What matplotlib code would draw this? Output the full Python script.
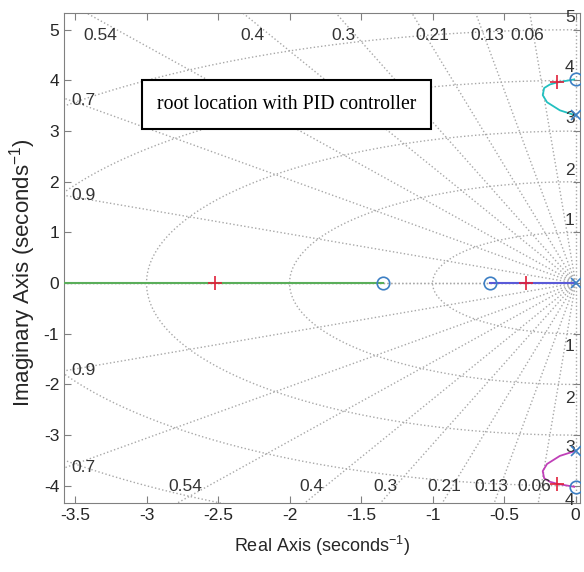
import numpy as np
import matplotlib
matplotlib.use("Agg")
from matplotlib import pyplot as plt
from matplotlib.patches import Rectangle

plt.rcParams['font.family'] = ['Liberation Sans', 'DejaVu Sans']
plt.rcParams['mathtext.default'] = 'regular'

# sgrid values
zeta_vals = [0.06, 0.13, 0.21, 0.3, 0.4, 0.54, 0.7, 0.9]
wn_vals = [1, 2, 3, 4, 5]

# root locus branches
upper_x = [0.0, -0.11, -0.20, -0.23, -0.22, -0.18, -0.13, -0.01]
upper_y = [3.31, 3.41, 3.57, 3.71, 3.85, 3.92, 3.96, 4.02]
lower_x = [0.0, -0.11, -0.20, -0.23, -0.22, -0.18, -0.13, -0.01]
lower_y = [-3.31, -3.41, -3.57, -3.71, -3.85, -3.92, -3.96, -4.02]
green_x = [-3.7, -1.35]
green_y = [0, 0]
blue_x = [-0.6, 0.0]
blue_y = [0, 0]

poles_x = [0.0, 0.0, 0.0]
poles_y = [0.0, 3.31, -3.31]
zeros_x = [-1.35, -0.6, 0.0, 0.0]
zeros_y = [0.0, 0.0, 4.02, -4.02]
gain_x = [-2.52, -0.35, -0.13, -0.13]
gain_y = [0.0, 0.0, 3.96, -3.96]

# grid labels
top_lab = ['0.54', '0.4', '0.3', '0.21', '0.13', '0.06']
top_lab_x = [-3.32, -2.26, -1.62, -1.0, -0.62, -0.34]
bot_lab = ['0.54', '0.4', '0.3', '0.21', '0.13', '0.06']
bot_lab_x = [-2.73, -1.85, -1.33, -0.92, -0.59, -0.29]
left_lab = ['0.7', '0.9', '0.9', '0.7']
left_lab_y = [3.61, 1.72, -1.72, -3.63]
wn_lab = ['5', '4', '3', '2', '1', '1', '2', '3', '4']
wn_lab_y = [5.25, 4.26, 3.25, 2.23, 1.24, -1.26, -2.27, -3.25, -4.3]

fig = plt.figure(figsize=(5.84, 5.72), dpi=100)
ax = fig.add_axes([0.1096, 0.1206, 0.8834, 0.8566])

gcol = '#a8a8a8'
# damping rays
for z in zeta_vals + [0.0, 1.0]:
    w = np.sqrt(1 - z**2)
    for s in (1, -1):
        ax.plot([0, -10 * z], [0, s * 10 * w], ls=':', color=gcol, lw=1, zorder=1)
# natural frequency circles
th = np.linspace(np.pi / 2, 3 * np.pi / 2, 400)
for wn in wn_vals:
    ax.plot(wn * np.cos(th), wn * np.sin(th), ls=':', color=gcol, lw=1, zorder=1)

# locus
ax.plot(green_x, green_y, color='#5aae5a', lw=1.5, zorder=3)
ax.plot(blue_x, blue_y, color='#5a5ad8', lw=1.5, zorder=3)
ax.plot(upper_x, upper_y, color='#22c0c0', lw=1.3, zorder=3)
ax.plot(lower_x, lower_y, color='#c040b8', lw=1.3, zorder=3)
ax.plot(poles_x, poles_y, 'x', color='#3d7fc4', ms=7, mew=1.2, zorder=4)
ax.plot(zeros_x, zeros_y, 'o', mfc='none', mec='#3d7fc4', ms=9, mew=1.2, zorder=4)
ax.plot(gain_x, gain_y, '+', color='#e0203a', ms=10, mew=1.2, zorder=5)

tcol = '#333333'
for t, x in zip(top_lab, top_lab_x):
    ax.text(x, 4.89, t, ha='center', va='center', fontsize=12.5, color=tcol)
for t, x in zip(bot_lab, bot_lab_x):
    ax.text(x, -4.02, t, ha='center', va='center', fontsize=12.5, color=tcol)
for t, y in zip(left_lab, left_lab_y):
    ax.text(-3.44, y, t, ha='center', va='center', fontsize=12.5, color=tcol)
for t, y in zip(wn_lab, wn_lab_y):
    ax.text(-0.04, y, t, ha='center', va='center', fontsize=12.5, color=tcol)

ax.add_patch(Rectangle((-3.03, 3.04), 2.02, 0.96, fill=True, fc='white',
                       ec='black', lw=1.5, zorder=6))
ax.text(-2.02, 3.52, 'root location with PID controller', ha='center', va='center',
        fontsize=14.2, family='Liberation Serif', color='black', zorder=7)

ax.set_xlim(-3.577, 0.03)
ax.set_ylim(-4.34, 5.33)
ax.set_xticks(np.arange(-3.5, 0.01, 0.5))
ax.set_xticklabels(['-3.5', '-3', '-2.5', '-2', '-1.5', '-1', '-0.5', '0'])
ax.set_yticks(np.arange(-4, 6, 1))
ax.set_yticklabels([str(v) for v in range(-4, 6)])
ax.tick_params(direction='in', top=True, right=True, labelsize=12.5,
               colors='#808080', labelcolor='#262626', length=5)
for sp in ax.spines.values():
    sp.set_color('#808080')
ax.set_xlabel('Real Axis (seconds$^{-1}$)', fontsize=13, color='#262626', labelpad=8)
ax.set_ylabel('Imaginary Axis (seconds$^{-1}$)', fontsize=16, color='#262626')
ax.yaxis.set_label_coords(-0.05, 0.47)

fig.savefig('out.png', dpi=100)
